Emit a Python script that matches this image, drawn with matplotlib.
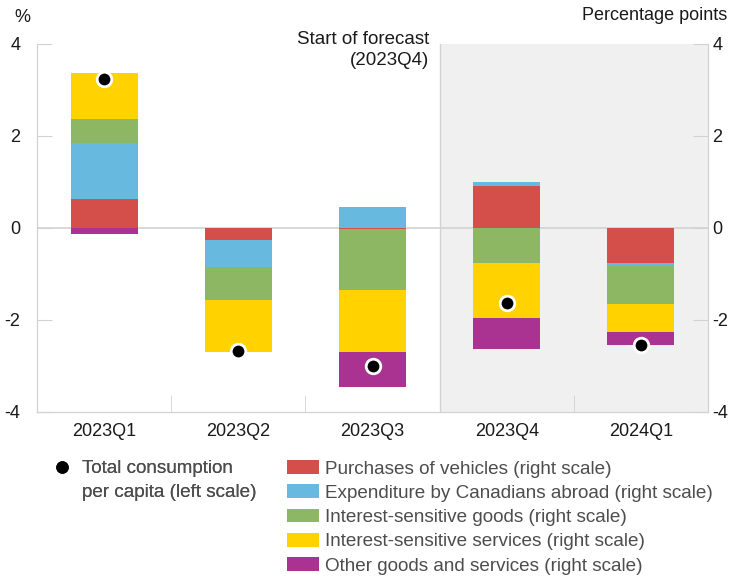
import matplotlib
matplotlib.use("Agg")
import matplotlib.pyplot as plt
from matplotlib.patches import Patch
from matplotlib.lines import Line2D
import numpy as np

plt.rcParams['font.family'] = ['Liberation Sans', 'DejaVu Sans']
plt.rcParams['axes.unicode_minus'] = False

quarters = ["2023Q1", "2023Q2", "2023Q3", "2023Q4", "2024Q1"]

vehicles = [0.62, -0.27, -0.02, 0.92, -0.75]
abroad = [1.22, -0.58, 0.46, 0.07, -0.08]
goods = [0.54, -0.72, -1.33, -0.77, -0.82]
services = [0.98, -1.13, -1.35, -1.19, -0.60]
other = [-0.13, 0.0, -0.76, -0.67, -0.30]

total_per_capita = [3.24, -2.68, -2.99, -1.64, -2.54]

series_labels = [
    "Purchases of vehicles (right scale)",
    "Expenditure by Canadians abroad (right scale)",
    "Interest-sensitive goods (right scale)",
    "Interest-sensitive services (right scale)",
    "Other goods and services (right scale)",
]
series_colors = ["#d54f4a", "#68b9df", "#8db762", "#ffd200", "#aa3391"]
dot_label_lines = ["Total consumption", "per capita (left scale)"]

text_color = "#1a1a1a"
legend_color = "#4d4d4d"
grid_gray = "#d2d2d2"
fs = 13

fig = plt.figure(figsize=(7.3, 5.77), dpi=100)
ax = fig.add_axes([37 / 730, 1 - 412 / 577, (708 - 37) / 730, (412 - 44) / 577])
ax2 = ax.twinx()

x = np.arange(len(quarters))

# forecast period shading and zero line (on the bar axis, behind the bars)
ax2.axvspan(2.5, 4.5, color="#f0f0f0", zorder=0, lw=0)
ax2.axvline(2.5, color=grid_gray, lw=1, zorder=1)
ax2.axhline(0, color=grid_gray, lw=1.2, zorder=1)

# stacked contributions: positives upward, negatives downward
pos_base = np.zeros(len(quarters))
neg_base = np.zeros(len(quarters))
for vals, color in zip([vehicles, abroad, goods, services, other], series_colors):
    v = np.array(vals)
    bottoms = np.where(v >= 0, pos_base, neg_base)
    ax2.bar(x, v, width=0.5, bottom=bottoms, color=color, zorder=2, lw=0)
    pos_base = pos_base + np.where(v >= 0, v, 0)
    neg_base = neg_base + np.where(v < 0, v, 0)

# total consumption dots on the left axis, drawn above the bars
ax.set_zorder(ax2.get_zorder() + 1)
ax.patch.set_visible(False)
ax2.patch.set_visible(False)
ax.plot(x, total_per_capita, "o", color="black", markersize=10.5,
        markeredgecolor="white", markeredgewidth=2, zorder=5, clip_on=False)

for a in (ax, ax2):
    a.set_ylim(-4, 4)
    a.set_xlim(-0.5, 4.5)
    a.set_yticks([-4, -2, 0, 2, 4])
    a.set_yticklabels(["-4", "-2", "0", "2", "4"])
    for s in a.spines.values():
        s.set_color(grid_gray)
    a.spines["top"].set_visible(False)

ax.tick_params(axis="y", direction="in", length=11, color=grid_gray,
               labelsize=fs, labelcolor=text_color, pad=12)
ax2.tick_params(axis="y", direction="in", length=11, color=grid_gray,
                labelsize=fs, labelcolor=text_color, pad=3)

ax.set_xticks(x)
ax.set_xticklabels(quarters)
ax.set_xticks(np.arange(0.5, 4.5, 1.0), minor=True)
ax.tick_params(axis="x", which="major", length=0, labelsize=fs,
               labelcolor=text_color, pad=8)
ax.tick_params(axis="x", which="minor", direction="in", length=12, color=grid_gray)
ax2.tick_params(axis="x", which="both", length=0)

ax.text(2.42, 3.87, "Start of forecast\n(2023Q4)", ha="right", va="center",
        fontsize=13.5, color=text_color, linespacing=1.25)

fig.text(22 / 730, 1 - 18 / 577, "%", ha="center", va="center",
         fontsize=fs, color=text_color)
fig.text(727 / 730, 1 - 16 / 577, "Percentage points", ha="right", va="center",
         fontsize=fs, color=text_color)

lfs = 13.6
legend_kw = dict(loc="upper left", frameon=False, fontsize=lfs,
                 labelspacing=0.36, borderpad=0, borderaxespad=0,
                 labelcolor=legend_color)

dot_handles = [
    Line2D([], [], marker="o", color="black", linestyle="none", markersize=8),
    Line2D([], [], linestyle="none"),
]
leg1 = fig.legend(dot_handles, dot_label_lines,
                  bbox_to_anchor=(52.6 / 730, 1 - 460 / 577),
                  handlelength=1.0, handletextpad=0.57, **legend_kw)

patch_handles = [Patch(facecolor=c, edgecolor="none") for c in series_colors]
leg2 = fig.legend(patch_handles, series_labels,
                  bbox_to_anchor=(287 / 730, 1 - 460 / 577),
                  handlelength=1.7, handleheight=0.75, handletextpad=0.32,
                  **legend_kw)
fig.add_artist(leg1)

fig.savefig("out.png", dpi=100)
